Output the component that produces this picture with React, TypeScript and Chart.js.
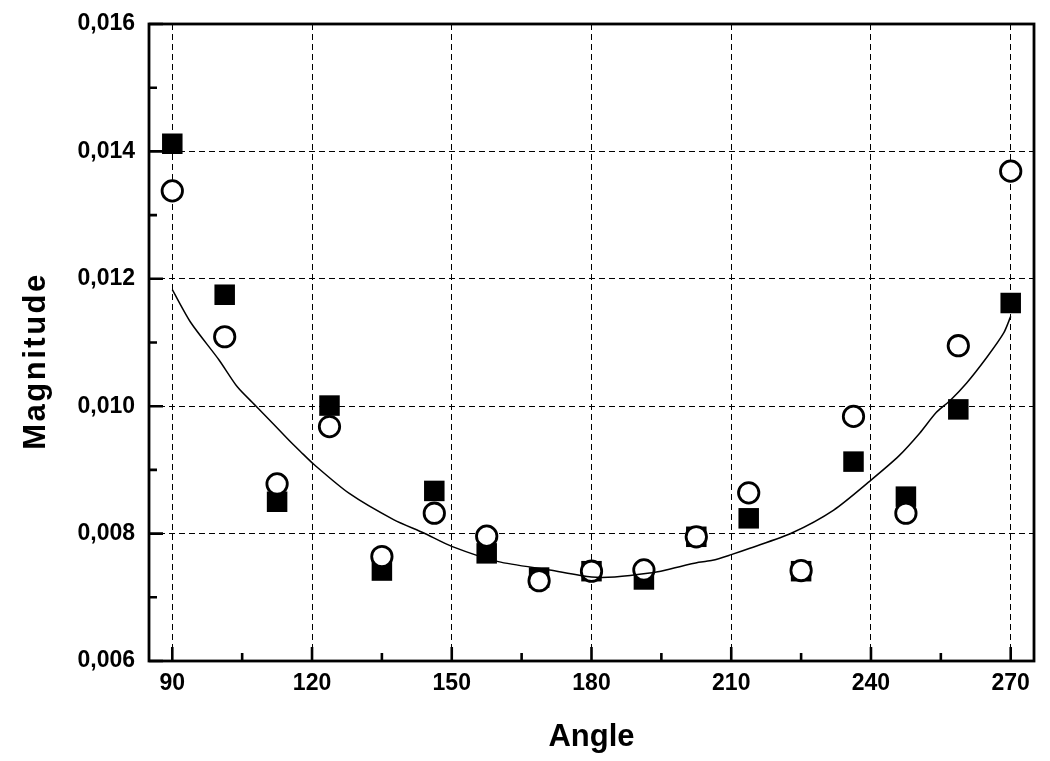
import React, { useEffect, useRef } from "react";
import { Chart, registerables } from "chart.js";

Chart.register(...registerables);

// Measured angles (degrees)
const angles = [90, 101.25, 112.5, 123.75, 135, 146.25, 157.5, 168.75, 180, 191.25, 202.5, 213.75, 225, 236.25, 247.5, 258.75, 270];
// Filled squares
const squareValues = [0.01412, 0.01175, 0.0085, 0.01001, 0.00742, 0.00867, 0.00769, 0.00731, 0.00741, 0.00728, 0.00795, 0.00824, 0.00741, 0.00913, 0.00858, 0.00995, 0.01162];
// Open circles
const circleValues = [0.01338, 0.01109, 0.00878, 0.00968, 0.00764, 0.00832, 0.00796, 0.00726, 0.00741, 0.00743, 0.00795, 0.00864, 0.00742, 0.00984, 0.00832, 0.01095, 0.01369];
// Fitted curve
const fitAngles = [90, 94, 100, 104, 108, 115, 117.5, 120.5, 128, 137.5, 144, 150, 160, 171, 180, 185, 192.5, 196, 203, 206, 210, 214, 223, 232, 240, 246, 250.5, 254, 257, 260.5, 265, 268.5, 270];
const fitValues = [0.01183, 0.01131, 0.01073, 0.01030, 0.01, 0.00947, 0.00929, 0.00908, 0.00863, 0.00822, 0.00801, 0.0078, 0.00756, 0.00743, 0.00732, 0.00732, 0.00738, 0.00743, 0.00755, 0.00758, 0.00767, 0.00777, 0.00801, 0.00837, 0.00884, 0.00922, 0.00958, 0.00990, 0.01009, 0.01036, 0.01078, 0.01115, 0.01141];

// Axes
const xMin = 85;
const xMax = 275;
const yMin = 0.006;
const yMax = 0.016;
const xTicks = [90, 120, 150, 180, 210, 240, 270];
const xMinorTicks = [105, 135, 165, 195, 225, 255];
const yTicks = [0.006, 0.008, 0.01, 0.012, 0.014, 0.016];
const yMinorTicks = [0.007, 0.009, 0.011, 0.013, 0.015];
const xTitle = "Angle";
const yTitle = "Magnitude";

const FONT = "'Liberation Sans', Arial, sans-serif";

const framePlugin = {
  id: "frameAndTicks",
  afterDraw(chart: any) {
    const { ctx, chartArea } = chart;
    const { left, right, top, bottom } = chartArea;
    const xs = chart.scales.x;
    const ys = chart.scales.y;
    ctx.save();
    ctx.strokeStyle = "#000";
    ctx.lineCap = "butt";
    // inward ticks
    ctx.lineWidth = 2.6;
    ctx.beginPath();
    xTicks.forEach((v) => {
      const px = xs.getPixelForValue(v);
      ctx.moveTo(px, bottom);
      ctx.lineTo(px, bottom - 14);
    });
    xMinorTicks.forEach((v) => {
      const px = xs.getPixelForValue(v);
      ctx.moveTo(px, bottom);
      ctx.lineTo(px, bottom - 8);
    });
    yTicks.forEach((v) => {
      const py = ys.getPixelForValue(v);
      ctx.moveTo(left, py);
      ctx.lineTo(left + 14, py);
    });
    yMinorTicks.forEach((v) => {
      const py = ys.getPixelForValue(v);
      ctx.moveTo(left, py);
      ctx.lineTo(left + 8, py);
    });
    ctx.stroke();
    // frame
    ctx.lineWidth = 2.8;
    ctx.strokeRect(left, top, right - left, bottom - top);
    // y axis title
    ctx.fillStyle = "#000";
    ctx.font = `bold 31px ${FONT}`;
    try {
      (ctx as any).letterSpacing = "2.5px";
    } catch (e) {}
    ctx.translate(45, 361);
    ctx.rotate(-Math.PI / 2);
    ctx.textAlign = "center";
    ctx.textBaseline = "alphabetic";
    ctx.fillText(yTitle, 0, 0);
    ctx.restore();
  },
};

export default function App() {
  const ref = useRef<HTMLCanvasElement | null>(null);

  useEffect(() => {
    if (!ref.current) return;
    const chart = new Chart(ref.current, {
      type: "scatter",
      data: {
        datasets: [
          {
            type: "line",
            label: "fit",
            data: fitAngles.map((a, i) => ({ x: a, y: fitValues[i] })),
            borderColor: "#000",
            borderWidth: 1.5,
            pointRadius: 0,
            fill: false,
            tension: 0.25,
            order: 1,
          } as any,
          {
            label: "circles",
            data: angles.map((a, i) => ({ x: a, y: circleValues[i] })),
            pointStyle: "circle",
            pointRadius: 10.2,
            pointBackgroundColor: "#fff",
            pointBorderColor: "#000",
            pointBorderWidth: 2.8,
            order: 2,
          },
          {
            label: "squares",
            data: angles.map((a, i) => ({ x: a, y: squareValues[i] })),
            pointStyle: "rect",
            pointRadius: 14.5,
            pointBackgroundColor: "#000",
            pointBorderColor: "#000",
            pointBorderWidth: 0,
            order: 3,
          },
        ],
      },
      options: {
        animation: false,
        responsive: false,
        layout: { padding: { top: 24, right: 16, left: 0, bottom: 0 } },
        plugins: {
          legend: { display: false },
          tooltip: { enabled: false },
        },
        scales: {
          x: {
            type: "linear",
            min: xMin,
            max: xMax,
            afterBuildTicks: (scale: any) => {
              scale.ticks = xTicks.map((v) => ({ value: v }));
            },
            afterFit: (scale: any) => {
              scale.height = 100;
              scale.paddingLeft = 0;
              scale.paddingRight = 0;
            },
            grid: {
              color: "#000",
              lineWidth: 1,
              drawTicks: false,
            },
            border: { display: false, dash: [6, 4] },
            ticks: {
              color: "#000",
              padding: 9,
              font: { family: FONT, size: 23, weight: "bold" },
              callback: (v: any) => String(v),
            },
            title: {
              display: true,
              text: xTitle,
              color: "#000",
              font: { family: FONT, size: 31, weight: "bold" },
              padding: { top: 0, bottom: 5 },
            },
          },
          y: {
            type: "linear",
            min: yMin,
            max: yMax,
            afterBuildTicks: (scale: any) => {
              scale.ticks = yTicks.map((v) => ({ value: v }));
            },
            afterFit: (scale: any) => {
              scale.width = 149;
              scale.paddingTop = 0;
              scale.paddingBottom = 0;
            },
            grid: {
              color: "#000",
              lineWidth: 1,
              drawTicks: false,
            },
            border: { display: false, dash: [6, 4] },
            ticks: {
              color: "#000",
              padding: 14,
              font: { family: FONT, size: 23, weight: "bold" },
              callback: (v: any) => Number(v).toFixed(3).replace(".", ","),
            },
          },
        },
      },
      plugins: [framePlugin],
    });
    return () => chart.destroy();
  }, []);

  return (
    <div style={{ position: "absolute", left: 0, top: 0, width: 1050, height: 761, background: "#fff" }}>
      <canvas ref={ref} width={1050} height={761} style={{ width: 1050, height: 761, display: "block" }} />
    </div>
  );
}
